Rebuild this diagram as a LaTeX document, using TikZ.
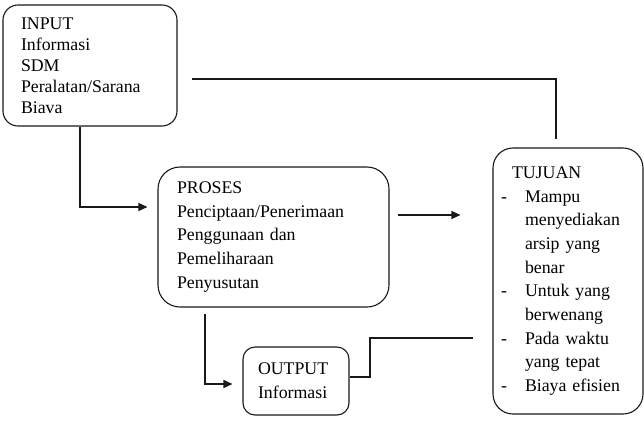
\documentclass[tikz,border=0pt]{standalone}
\usepackage{fontspec}
\setmainfont{Liberation Serif}
\usetikzlibrary{arrows.meta,calc}
\begin{document}
\begin{tikzpicture}[x=1pt,y=-1pt,
  boxbase/.style={draw=black!90, line width=1.1pt, inner sep=0pt, align=left,
    font=\fontsize{17.8}{23.7}\selectfont},
  conn/.style={draw=black!90, line width=1.1pt},
  arrowc/.style={conn, -{Triangle[length=9pt,width=8pt]}}
]
\useasboundingbox (0,0) rectangle (644,426);

\node[boxbase, rounded corners=15pt, minimum width=174pt, minimum height=121pt,
  text width=138pt, font=\fontsize{17.8}{21}\selectfont] (input) at (90,65.5)
  {INPUT\\Informasi\\SDM\\Peralatan/Sarana\\Biava};

\node[boxbase, rounded corners=22pt, minimum width=231pt, minimum height=140pt,
  text width=193pt] (proses) at (273.5,237)
  {PROSES\\Penciptaan/Penerimaan\\Penggunaan dan\\Pemeliharaan\\Penyusutan};

\node[boxbase, rounded corners=20pt, minimum width=150pt, minimum height=266pt,
  text width=134pt] (tujuan) at (568,281)
  {\makebox[11pt][l]{}TUJUAN\\
   \makebox[24pt][l]{-}Mampu\\
   \makebox[24pt][l]{}menyediakan\\
   \makebox[24pt][l]{}arsip yang\\
   \makebox[24pt][l]{}benar\\
   \makebox[24pt][l]{-}Untuk yang\\
   \makebox[24pt][l]{}berwenang\\
   \makebox[24pt][l]{-}Pada waktu\\
   \makebox[24pt][l]{}yang tepat\\
   \makebox[24pt][l]{-}Biaya efisien};

\node[boxbase, rounded corners=12pt, minimum width=106pt, minimum height=68pt,
  text width=76pt] (output) at (296,381)
  {OUTPUT\\Informasi};

\coordinate (c1) at (556,79);
\coordinate (c2) at (80,207);
\coordinate (c3) at (0,215);
\coordinate (c4) at (205,384);
\coordinate (c5a) at (370,377);
\coordinate (c5b) at (370,338);

\draw[conn, shorten <=14pt, shorten >=8pt] (input.east |- c1) -- (c1) -- (c1 |- tujuan.north);
\draw[arrowc, shorten >=10pt] (c2 |- input.south) -- (c2) -- (c2 -| proses.west);
\draw[arrowc, shorten <=8pt, shorten >=32pt] (proses.east |- c3) -- (tujuan.west |- c3);
\draw[arrowc, shorten <=6pt, shorten >=10pt] (c4 |- proses.south) -- (c4) -- (c4 -| output.west);
\draw[conn, shorten >=19pt] (output.east |- c5a) -- (c5a) -- (c5b) -- (c5b -| tujuan.west);
\end{tikzpicture}
\end{document}
